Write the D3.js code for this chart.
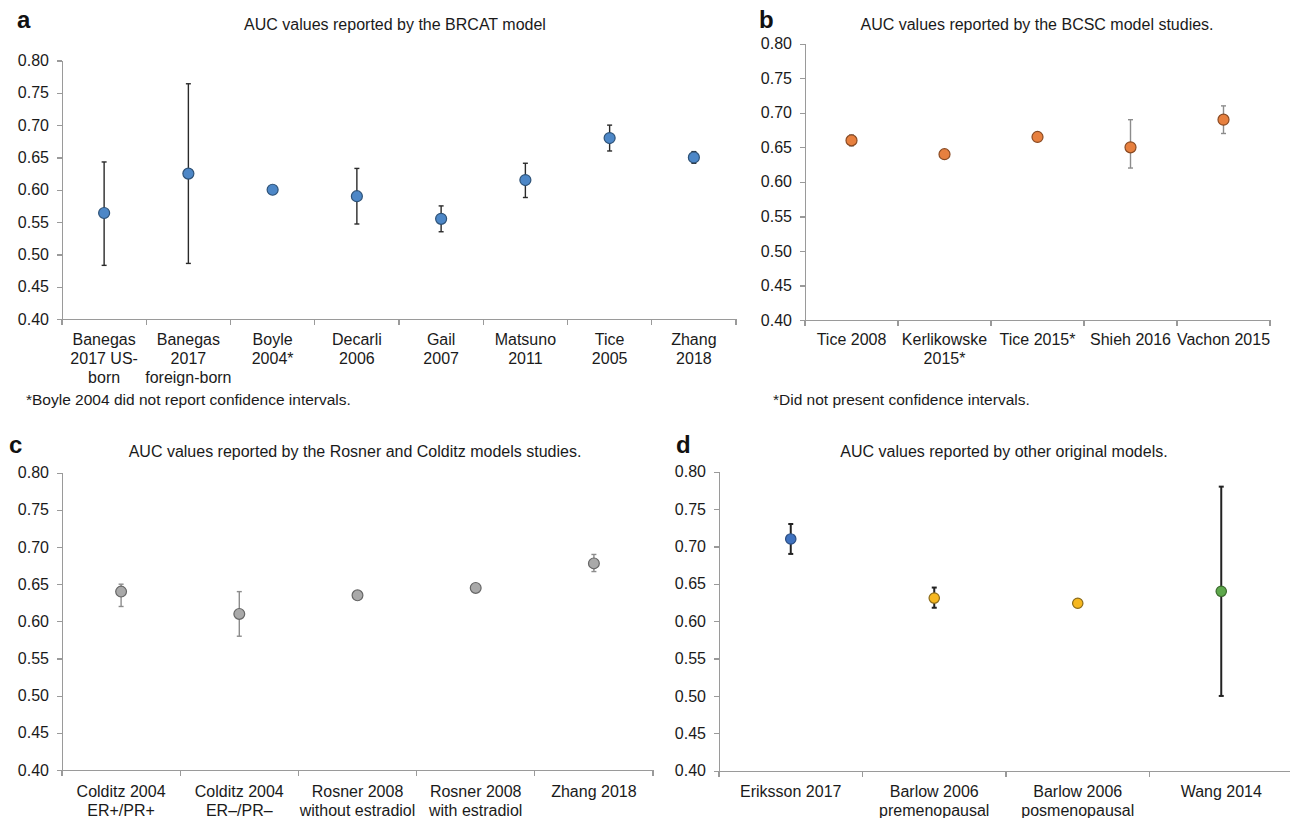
<!DOCTYPE html>
<html lang="en">
<head>
<meta charset="UTF-8">
<title>AUC values</title>
<script src="https://cdn.jsdelivr.net/npm/d3@7"></script>
<style>
  body { margin: 0; background: #fff; }
  svg { font-family: "Liberation Sans", Arial, sans-serif; }
  .axis path, .axis line { stroke: #9a9a9a; stroke-width: 1.3; shape-rendering: crispEdges; }
  .axis text { fill: #1a1a1a; font-size: 16px; }
  .title { font-size: 16px; fill: #1a1a1a; }
  .letter { font-size: 24px; font-weight: bold; fill: #111; }
  .note { font-size: 15.5px; fill: #1a1a1a; }
  .cat { font-size: 16px; fill: #1a1a1a; }
</style>
</head>
<body>
<script>
// y ticks shared by all panels
var yTicks = [0.40, 0.45, 0.50, 0.55, 0.60, 0.65, 0.70, 0.75, 0.80];

// panel a - BRCAT
var catsA = [["Banegas", "2017 US-", "born"], ["Banegas", "2017", "foreign-born"], ["Boyle", "2004*"],
             ["Decarli", "2006"], ["Gail", "2007"], ["Matsuno", "2011"], ["Tice", "2005"], ["Zhang", "2018"]];
var aucA = [0.564, 0.625, 0.600, 0.590, 0.555, 0.615, 0.680, 0.650];
var lowA = [0.483, 0.486, null, 0.547, 0.535, 0.588, 0.660, 0.641];
var highA = [0.643, 0.764, null, 0.633, 0.575, 0.641, 0.700, 0.659];

// panel b - BCSC
var catsB = [["Tice 2008"], ["Kerlikowske", "2015*"], ["Tice 2015*"], ["Shieh 2016"], ["Vachon 2015"]];
var aucB = [0.660, 0.640, 0.665, 0.650, 0.690];
var lowB = [0.652, null, null, 0.620, 0.670];
var highB = [0.668, null, null, 0.690, 0.710];

// panel c - Rosner and Colditz
var catsC = [["Colditz 2004", "ER+/PR+"], ["Colditz 2004", "ER\u2013/PR\u2013"], ["Rosner 2008", "without estradiol"],
             ["Rosner 2008", "with estradiol"], ["Zhang 2018"]];
var aucC = [0.640, 0.610, 0.635, 0.645, 0.678];
var lowC = [0.620, 0.580, null, null, 0.667];
var highC = [0.650, 0.640, null, null, 0.690];

// panel d - other original models
var catsD = [["Eriksson 2017"], ["Barlow 2006", "premenopausal"], ["Barlow 2006", "posmenopausal"], ["Wang 2014"]];
var aucD = [0.710, 0.631, 0.624, 0.640];
var lowD = [0.690, 0.618, null, 0.500];
var highD = [0.730, 0.645, null, 0.780];
var fillD = ["#3f72bf", "#f6b71f", "#f6b71f", "#5ea84c"];
var strokeD = ["#2b4d80", "#8a6a1a", "#8a6a1a", "#3c6b2e"];

var svg = d3.select("body").append("svg")
    .attr("width", 1290)
    .attr("height", 818);

function drawPanel(p) {
    var g = svg.append("g");
    var x = d3.scaleBand().domain(d3.range(p.cats.length)).range([p.left, p.right]);
    var y = d3.scaleLinear().domain([0.4, 0.8]).range([p.bottom, p.top]);

    g.append("g")
        .attr("class", "axis")
        .attr("transform", "translate(" + p.left + ",0)")
        .call(d3.axisLeft(y).tickValues(yTicks).tickFormat(d3.format(".2f")).tickSize(5).tickPadding(8).tickSizeOuter(0));

    var xAxis = g.append("g")
        .attr("class", "axis")
        .attr("transform", "translate(0," + p.bottom + ")")
        .call(d3.axisBottom(x).tickValues([]).tickSizeOuter(0));
    // tick marks on the band boundaries
    xAxis.selectAll(".sep")
        .data(d3.range(p.cats.length + 1))
        .enter().append("line")
        .attr("x1", function(i) { return i < p.cats.length ? x(i) : p.right; })
        .attr("x2", function(i) { return i < p.cats.length ? x(i) : p.right; })
        .attr("y1", 0).attr("y2", 6);

    // category labels
    var labels = g.selectAll(".cat")
        .data(p.cats)
        .enter().append("text")
        .attr("class", "cat")
        .attr("text-anchor", "middle")
        .attr("x", function(d, i) { return x(i) + x.bandwidth() / 2; })
        .attr("y", p.labelY);
    labels.selectAll("tspan")
        .data(function(d, i) { return d.map(function(s) { return {s: s, i: i}; }); })
        .enter().append("tspan")
        .attr("x", function(d) { return x(d.i) + x.bandwidth() / 2; })
        .attr("dy", function(d, j) { return j === 0 ? 0 : 19; })
        .text(function(d) { return d.s; });

    // error bars
    var eb = g.selectAll(".err")
        .data(p.auc.map(function(v, i) { return {i: i, lo: p.low[i], hi: p.high[i]}; })
            .filter(function(d) { return d.lo != null; }))
        .enter().append("g")
        .attr("stroke", p.errColor)
        .attr("stroke-width", p.errWidth);
    eb.append("line")
        .attr("x1", function(d) { return x(d.i) + x.bandwidth() / 2; })
        .attr("x2", function(d) { return x(d.i) + x.bandwidth() / 2; })
        .attr("y1", function(d) { return y(d.lo); })
        .attr("y2", function(d) { return y(d.hi); });
    ["lo", "hi"].forEach(function(k) {
        eb.append("line")
            .attr("x1", function(d) { return x(d.i) + x.bandwidth() / 2 - 2.5; })
            .attr("x2", function(d) { return x(d.i) + x.bandwidth() / 2 + 2.5; })
            .attr("y1", function(d) { return y(d[k]); })
            .attr("y2", function(d) { return y(d[k]); });
    });

    // points
    g.selectAll(".pt")
        .data(p.auc)
        .enter().append("circle")
        .attr("cx", function(d, i) { return x(i) + x.bandwidth() / 2; })
        .attr("cy", function(d) { return y(d); })
        .attr("r", p.r)
        .attr("fill", function(d, i) { return typeof p.fill === "string" ? p.fill : p.fill[i]; })
        .attr("stroke", function(d, i) { return typeof p.stroke === "string" ? p.stroke : p.stroke[i]; })
        .attr("stroke-width", 1.2);

    svg.append("text").attr("class", "letter").attr("x", p.letterX).attr("y", p.letterY).text(p.letter);
    svg.append("text").attr("class", "title").attr("text-anchor", "middle")
        .attr("x", p.titleX).attr("y", p.titleY).text(p.title);
}

drawPanel({cats: catsA, auc: aucA, low: lowA, high: highA,
    left: 62, right: 736, top: 60.5, bottom: 319, labelY: 345,
    fill: "#4d87c7", stroke: "#2e5277", errColor: "#2a2a2a", errWidth: 1.4, r: 5.5,
    letter: "a", letterX: 17, letterY: 28, title: "AUC values reported by the BRCAT model", titleX: 395, titleY: 30});

drawPanel({cats: catsB, auc: aucB, low: lowB, high: highB,
    left: 805, right: 1270, top: 43.7, bottom: 320, labelY: 345,
    fill: "#e7803f", stroke: "#8a4a22", errColor: "#8c8c8c", errWidth: 1.4, r: 5.5,
    letter: "b", letterX: 759, letterY: 28, title: "AUC values reported by the BCSC model studies.", titleX: 1037, titleY: 30});

drawPanel({cats: catsC, auc: aucC, low: lowC, high: highC,
    left: 62, right: 653, top: 472.7, bottom: 770, labelY: 797,
    fill: "#a9a9a9", stroke: "#666666", errColor: "#8c8c8c", errWidth: 1.4, r: 5.4,
    letter: "c", letterX: 9, letterY: 453, title: "AUC values reported by the Rosner and Colditz models studies.", titleX: 355, titleY: 457});

drawPanel({cats: catsD, auc: aucD, low: lowD, high: highD,
    left: 719, right: 1293, top: 471.7, bottom: 770.7, labelY: 797,
    fill: fillD, stroke: strokeD, errColor: "#222222", errWidth: 2, r: 5.2,
    letter: "d", letterX: 676, letterY: 453, title: "AUC values reported by other original models.", titleX: 1004, titleY: 457});

svg.append("text").attr("class", "note").attr("x", 26).attr("y", 405)
    .text("*Boyle 2004 did not report confidence intervals.");
svg.append("text").attr("class", "note").attr("x", 773).attr("y", 405)
    .text("*Did not present confidence intervals.");
</script>
</body>
</html>
